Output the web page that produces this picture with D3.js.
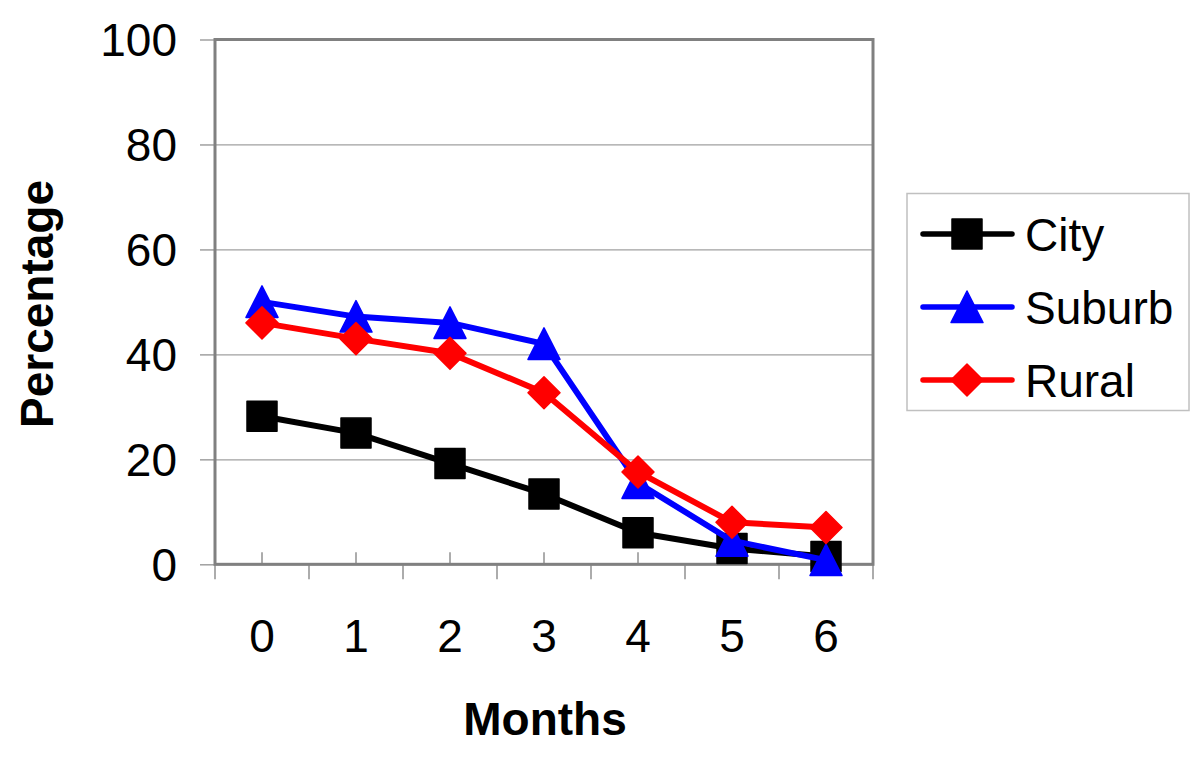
<!DOCTYPE html>
<html>
<head>
<meta charset="utf-8">
<script src="https://cdn.jsdelivr.net/npm/d3@7"></script>
<style>
  html, body { margin: 0; padding: 0; background: #fff; }
  svg { display: block; }
  text { font-family: "Liberation Sans", Arial, sans-serif; fill: #000; }
</style>
</head>
<body>
<svg id="chart" width="1200" height="763"></svg>
<script>
const categories = ["0", "1", "2", "3", "4", "5", "6"];
const seriesNames = ["City", "Suburb", "Rural"];
const cityValues = [28.2, 25, 19.2, 13.4, 6, 3, 1.5];
const suburbValues = [50, 47.2, 46, 42, 15.5, 4.5, 0.8];
const ruralValues = [46, 43, 40.2, 32.7, 17.6, 8, 7];
const yTickValues = [0, 20, 40, 60, 80, 100];
const xTitle = "Months";
const yTitle = "Percentage";

(function () {
const series = [
  { name: seriesNames[0], values: cityValues, color: "#000000", marker: "square" },
  { name: seriesNames[1], values: suburbValues, color: "#0000ff", marker: "triangle" },
  { name: seriesNames[2], values: ruralValues, color: "#ff0000", marker: "diamond" }
];

const svg = d3.select("#chart");
const pL = 215, pR = 873, pT = 39.5, pB = 564.3;

const x = d3.scaleBand().domain(categories).range([pL, pR]).padding(0);
const y = d3.scaleLinear().domain([0, 100]).range([pB, pT]);

// gridlines
svg.append("g")
  .attr("transform", `translate(${pL},0)`)
  .call(d3.axisLeft(y).tickValues(yTickValues).tickSize(-(pR - pL)).tickFormat(""))
  .call(g => g.select(".domain").remove())
  .call(g => g.selectAll("line").attr("stroke", "#a0a0a0").attr("stroke-width", 1.2));

// y tick marks (outside)
svg.append("g")
  .attr("transform", `translate(${pL},0)`)
  .call(d3.axisLeft(y).tickValues(yTickValues).tickSize(15).tickFormat(""))
  .call(g => g.select(".domain").remove())
  .call(g => g.selectAll("line").attr("stroke", "#a0a0a0").attr("stroke-width", 1.5));

// y labels
svg.append("g").selectAll("text").data(yTickValues).join("text")
  .attr("x", 177).attr("y", d => y(d)).attr("dy", "0.36em")
  .attr("text-anchor", "end").attr("font-size", 46)
  .text(d => d);

// x ticks at boundaries (downward) and centres (upward)
const bounds = categories.map(c => x(c)).concat([x(categories[categories.length - 1]) + x.bandwidth()]);
svg.append("g").selectAll("line").data(bounds).join("line")
  .attr("x1", d => d).attr("x2", d => d).attr("y1", pB).attr("y2", pB + 15)
  .attr("stroke", "#909090").attr("stroke-width", 1.5);
svg.append("g").selectAll("line").data(categories).join("line")
  .attr("x1", d => x(d) + x.bandwidth() / 2).attr("x2", d => x(d) + x.bandwidth() / 2)
  .attr("y1", pB - 12).attr("y2", pB)
  .attr("stroke", "#909090").attr("stroke-width", 1.5);

// x labels
svg.append("g")
  .attr("transform", `translate(0,${pB})`)
  .call(d3.axisBottom(x).tickSize(0).tickPadding(0))
  .call(g => g.select(".domain").remove())
  .call(g => g.selectAll("text").attr("font-size", 46).attr("dy", 0).attr("y", 88)
    .attr("font-family", "'Liberation Sans', Arial, sans-serif").attr("fill", "#000"));

// frame
svg.append("rect")
  .attr("x", pL).attr("y", pT).attr("width", pR - pL).attr("height", pB - pT)
  .attr("fill", "none").attr("stroke", "#808080").attr("stroke-width", 3);

// marker paths
function markerPath(type) {
  if (type === "square") return "M-15,-15H15V15H-15Z";
  if (type === "triangle") return "M0,-16L16,15.5L-16,15.5Z";
  return "M0,-16L16,0L0,16L-16,0Z";
}

const line = d3.line()
  .x((d, i) => x(categories[i]) + x.bandwidth() / 2)
  .y(d => y(d));

series.forEach(s => {
  const g = svg.append("g");
  g.append("path").datum(s.values)
    .attr("d", line).attr("fill", "none").attr("stroke", s.color)
    .attr("stroke-width", 6).attr("stroke-linejoin", "round").attr("stroke-linecap", "round");
  g.selectAll("path.m").data(s.values).join("path").attr("class", "m")
    .attr("transform", (d, i) => `translate(${x(categories[i]) + x.bandwidth() / 2},${y(d)})`)
    .attr("d", markerPath(s.marker))
    .attr("fill", s.color).attr("stroke", s.color).attr("stroke-width", 1.5).attr("stroke-linejoin", "round");
});

// axis titles
svg.append("text")
  .attr("transform", `translate(53,304) rotate(-90)`)
  .attr("text-anchor", "middle").attr("font-size", 46).attr("font-weight", "bold")
  .text(yTitle);
svg.append("text")
  .attr("x", 545).attr("y", 735)
  .attr("text-anchor", "middle").attr("font-size", 46).attr("font-weight", "bold")
  .text(xTitle);

// legend
const lg = svg.append("g");
lg.append("rect").attr("x", 907).attr("y", 193.5).attr("width", 282).attr("height", 217)
  .attr("fill", "#fff").attr("stroke", "#c0c0c0").attr("stroke-width", 1.5);
const legendY = d3.scalePoint().domain(seriesNames).range([234, 380]);
series.forEach(s => {
  const cy = legendY(s.name);
  lg.append("line").attr("x1", 923).attr("x2", 1012).attr("y1", cy).attr("y2", cy)
    .attr("stroke", s.color).attr("stroke-width", 5.5).attr("stroke-linecap", "round");
  lg.append("path").attr("transform", `translate(967,${cy})`).attr("d", markerPath(s.marker))
    .attr("fill", s.color).attr("stroke", s.color).attr("stroke-width", 1.5).attr("stroke-linejoin", "round");
  lg.append("text").attr("x", 1025).attr("y", cy).attr("dy", "0.36em")
    .attr("font-size", 46).text(s.name);
});
})();
</script>
</body>
</html>
